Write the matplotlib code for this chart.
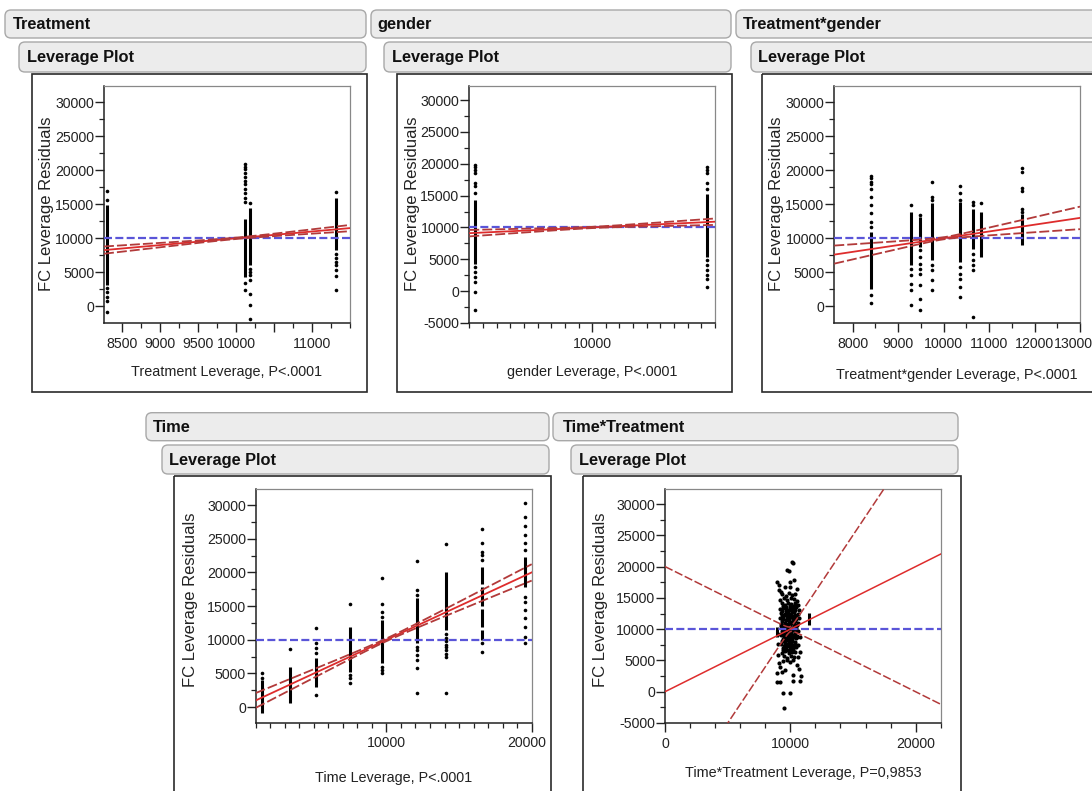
import numpy as np
import matplotlib
matplotlib.use("Agg")
import matplotlib.pyplot as plt
from matplotlib.patches import FancyBboxPatch, Rectangle
from matplotlib.ticker import FixedLocator, MultipleLocator
from matplotlib.transforms import ScaledTranslation

# ---------------- text ----------------
section_titles = ["Treatment", "gender", "Treatment*gender", "Time", "Time*Treatment"]
sub_title = "Leverage Plot"
y_title = "FC Leverage Residuals"
x_titles = ["Treatment Leverage, P<.0001", "gender Leverage, P<.0001",
            "Treatment*gender Leverage, P<.0001", "Time Leverage, P<.0001",
            "Time*Treatment Leverage, P=0,9853"]

# ---------------- fit / reference lines ----------------
mean_resid = 10000
fit_center = 10000
fit_slope = 1.0
ci_a = [100, 100, 150, 200, 400]
ci_b = [0.30, 0.55, 0.55, 0.12, 2.0]

# ---------------- Treatment ----------------
trt_x = [8300, 10123, 10189, 11321]
trt_dense = [[(3100, 14870)], [(4320, 12910)], [(6040, 14390)], [(8250, 15960)]]
trt_pts = [[16980, 15610, 2750, 2110, 1370, 780, -840],
           [20910, 20520, 20130, 19640, 19050, 18460, 17970, 17190, 16600, 15860, 15370, 3440, 2360],
           [15120, 5550, 5060, 4570, 3930, 1770, 150, -1810],
           [16840, 7760, 7170, 6530, 6040, 5300, 4420, 2360]]

# ---------------- gender ----------------
gen_x = [9145, 10845]
gen_dense = [[(4330, 14280)], [(5300, 15300)]]
gen_pts = [[19780, 19420, 19000, 18480, 16900, 16480, 15330, 3810, 3020, 2240, 1450, -120, -3000],
           [19520, 19000, 18470, 16900, 15960, 4850, 4070, 3390, 2500, 1970, 660]]

# ---------------- Treatment*gender ----------------
tg_x = [8404, 9290, 9473, 9745, 10367, 10646, 10822, 11723]
tg_dense = [[(2600, 10950)], [(6040, 13900)], [(8740, 13160)], [(6780, 15120)],
            [(6530, 15370)], [(8490, 14380)], [(7270, 13900)], [(9000, 13500)]]
tg_pts = [[19150, 18800, 18310, 17970, 17180, 16100, 14880, 13650, 12420, 11700, 1620, 490],
          [14875, 5550, 4570, 3340, 2360, 150],
          [13400, 8250, 7270, 6280, 5550, 4810, 3090, 1130, -590],
          [18310, 16100, 15610, 6040, 5300, 3830, 2360],
          [17670, 16590, 15610, 5790, 4810, 4080, 2850, 1380],
          [15370, 14880, 7760, 6780, 6040, 5300, -1570],
          [15120],
          [20270, 19780, 17330, 16980, 14300, 13900]]

# ---------------- Time ----------------
tm_x = [1450, 3380, 5170, 7470, 9700, 12070, 14070, 16600, 19540]
tm_dense = [[(-900, 4050)], [(590, 6030)], [(3060, 7260)], [(5290, 11960)], [(6520, 12950)],
            [(9500, 16160)], [(11500, 20110)],
            [(9980, 11500), (11900, 14600), (15000, 17800), (18300, 20850)],
            [(17890, 22340)]]
tm_pts = [[5140, 4300],
          [8700],
          [11810, 9490, 8750, 8000, 1830],
          [15270, 4790, 4300, 3560],
          [19120, 15270, 14180, 13440, 6030, 5530, 5040],
          [21740, 17400, 16650, 9000, 8500, 7760, 7020, 5780, 2070],
          [24210, 10800, 10300, 9800, 9300, 8900, 8500, 7860, 7510, 2070],
          [26390, 24410, 23080, 22580, 21840, 9490, 8150],
          [30240, 28170, 26880, 25550, 24310, 23320, 16410, 15660, 14430, 13190, 11960, 10480, 9490]]

# ---------------- Time*Treatment ----------------
tt_bars_x = [8950, 11500]
tt_bars = [(8800, 10400), (10700, 12600)]
tt_pts = [
    (9350, 15600), (9620, 15300), (9900, 15800), (10150, 15400), (10400, 15650),
    (9200, 14700), (9480, 14950), (9750, 14600), (10020, 14900), (10300, 14750), (10550, 14500),
    (9300, 14100), (9560, 13850), (9830, 14200), (10080, 13950), (10340, 14150), (10600, 13800),
    (9150, 13200), (9420, 13450), (9680, 13150), (9950, 13400), (10200, 13250), (10470, 13500), (10680, 13100),
    (9280, 12650), (9540, 12400), (9800, 12700), (10060, 12500), (10320, 12750), (10580, 12450),
    (9180, 11850), (9450, 12050), (9710, 11800), (9970, 12000), (10230, 11900), (10490, 12100), (10700, 11750),
    (9330, 11250), (9590, 11050), (9860, 11300), (10120, 11150), (10380, 11350), (10620, 11050),
    (9220, 10450), (9480, 10650), (9740, 10400), (10000, 10600), (10260, 10450), (10520, 10700),
    (9350, 9750), (9610, 9950), (9880, 9700), (10140, 9900), (10400, 9800), (10650, 9650),
    (9250, 9050), (9520, 9250), (9790, 9000), (10050, 9200), (10310, 9100), (10560, 8950),
    (9380, 8450), (9640, 8250), (9910, 8500), (10170, 8350), (10430, 8550),
    (9290, 7650), (9560, 7850), (9820, 7600), (10080, 7800), (10340, 7650), (10580, 7500),
    (9400, 7050), (9680, 6850), (9950, 7100), (10210, 6950), (10460, 7150),
    (9330, 6250), (9600, 6450), (9870, 6200), (10130, 6400), (10390, 6300),
    (9480, 5650), (9760, 5450), (10030, 5700), (10290, 5500),
    (9420, 4850), (9700, 5050), (9980, 4800), (10240, 5000),
    (9420, 13700), (9690, 13600), (9960, 13750), (10230, 13650), (10480, 13900),
    (9360, 12950), (9620, 12850), (9890, 13000), (10150, 12900), (10410, 13050),
    (9320, 12250), (9580, 12200), (9850, 12300), (10110, 12150), (10370, 12250),
    (9390, 11550), (9650, 11500), (9920, 11650), (10180, 11550), (10440, 11600),
    (9280, 10850), (9540, 10900), (9810, 10800), (10070, 10950), (10330, 10850),
    (9420, 10150), (9680, 10200), (9940, 10100), (10200, 10250), (10460, 10150),
    (9300, 9450), (9560, 9500), (9830, 9400), (10090, 9550), (10350, 9450),
    (9460, 8750), (9720, 8700), (9980, 8800), (10240, 8700), (10500, 8800),
    (9330, 8050), (9590, 8100), (9860, 7950), (10120, 8100), (10380, 8000),
    (9500, 7300), (9760, 7350), (10020, 7250), (10280, 7400),
    (9450, 6650), (9720, 6700), (9980, 6600), (10250, 6700),
    (10110, 20770), (10240, 20500), (9710, 19450), (9920, 19350), (9950, 17580),
    (8910, 17580), (9100, 16260), (9130, 17000), (10300, 17800), (10000, 16800),
    (9600, 16700), (10500, 16400), (9250, 15900),
    (9440, -215), (9976, -215), (9520, -2610), (8910, 1475), (9180, 1475),
    (10770, 1640), (10190, 1640), (8910, 2960), (9310, 3100), (10190, 2700),
    (10830, 2500), (9200, 3900), (9600, 3400), (10500, 4200), (10700, 3700),
    (9100, 4600), (10600, 5500), (9050, 5900), (10750, 6400), (9000, 7600),
    (10800, 8800), (9050, 9200),
]

# ---------------- ticks ----------------
p1_xticks = [8500, 9000, 9500, 10000, 10500, 11000]
p1_xlabels = ["8500", "9000", "9500", "10000", "", "11000"]
p2_xticks = [10000]
p2_xlabels = ["10000"]
p3_xticks = [8000, 9000, 10000, 11000, 12000, 13000]
p3_xlabels = ["8000", "9000", "10000", "11000", "12000", "13000"]
p4_xticks = [10000, 20000]
p4_xlabels = ["10000", "20000"]
p5_xticks = [0, 10000, 20000]
p5_xlabels = ["0", "10000", "20000"]
yticks_a = [0, 5000, 10000, 15000, 20000, 25000, 30000]
yticks_b = [-5000, 0, 5000, 10000, 15000, 20000, 25000, 30000]

# ---------------- figure ----------------
W, H = 1092, 791
FONT = ['Liberation Sans', 'DejaVu Sans']
plt.rcParams['font.family'] = FONT

fig = plt.figure(figsize=(W / 100, H / 100), dpi=100)
fig.patch.set_facecolor('white')
bg = fig.add_axes([0, 0, 1, 1], zorder=0)
bg.set_xlim(0, W)
bg.set_ylim(H, 0)
bg.axis('off')

RED = '#de2c2c'
DRED = '#b23a3a'
BLUE = '#5a55d8'


def header(x0, x1, y0, y1, text, tx):
    bg.add_patch(FancyBboxPatch((x0, y0), x1 - x0, y1 - y0,
                                boxstyle='round,pad=0,rounding_size=6',
                                fc='#ececec', ec='#a8a8a8', lw=1.0))
    bg.text(tx, (y0 + y1) / 2 + 0.5, text, fontweight='bold',
            fontsize=11.8, va='center', ha='left', color='#111')


def frame(x0, x1, y0, y1):
    bg.add_patch(Rectangle((x0, y0), x1 - x0, y1 - y0, fill=False, ec='#2a2a2a', lw=1.2))


def make_ax(l, t, r, b):
    ax = fig.add_axes([l / W, 1 - b / H, (r - l) / W, (b - t) / H], zorder=2)
    for s in ['left', 'bottom']:
        ax.spines[s].set_color('#222')
        ax.spines[s].set_linewidth(1.1)
    for s in ['top', 'right']:
        ax.spines[s].set_color('#888')
        ax.spines[s].set_linewidth(0.9)
    ax.tick_params(which='major', direction='out', length=6.3, width=1.0, labelsize=10.2,
                   colors='#222')
    ax.tick_params(which='minor', direction='out', length=3.5, width=0.9, colors='#222')
    ax.tick_params(axis='x', which='major', pad=3.5)
    ax.tick_params(axis='y', which='major', pad=0.8)
    return ax


def draw_columns(ax, xs, dense, pts):
    for x, segs, ys in zip(xs, dense, pts):
        for lo, hi in segs:
            ax.vlines(x, lo, hi, color='black', lw=2.2, zorder=2)
        ax.plot([x] * len(ys), ys, 'o', color='black', ms=2.6, mec='none', zorder=2)


def draw_fit(ax, xlim, a, b, lw=1.3):
    xx = np.linspace(xlim[0], xlim[1], 600)
    fit = mean_resid + fit_slope * (xx - fit_center)
    hw = np.sqrt(a ** 2 + (b * (xx - fit_center)) ** 2)
    ax.axhline(mean_resid, color=BLUE, lw=1.6, ls=(0, (3.6, 1.5)), zorder=3)
    ax.plot(xx, fit, color=RED, lw=lw, zorder=4)
    ax.plot(xx, fit + hw, color=DRED, lw=lw, ls=(0, (5.5, 1.7)), zorder=4)
    ax.plot(xx, fit - hw, color=DRED, lw=lw, ls=(0, (5.5, 1.7)), zorder=4)


def finish(ax, xlim, ylim, xt, xl, xminor, yt, x_title, ylab_x, ylab_y, xlab_y):
    ax.set_xlim(*xlim)
    ax.set_ylim(*ylim)
    ax.xaxis.set_major_locator(FixedLocator(xt))
    ax.set_xticklabels(xl)
    ax.xaxis.set_minor_locator(MultipleLocator(xminor))
    ax.yaxis.set_major_locator(FixedLocator(yt))
    ax.set_yticklabels([str(v) for v in yt])
    ax.yaxis.set_minor_locator(MultipleLocator(2500))
    bg.text(ylab_x, ylab_y, y_title, rotation=90, fontsize=12,
            ha='center', va='center', color='#222')
    pos = ax.get_position()
    cx = (pos.x0 + pos.x1) / 2 * W
    bg.text(cx, xlab_y, x_title, fontsize=10.4, ha='center',
            va='center', color='#222')


def shift_label(ax, idx, dx_px):
    lab = ax.get_xticklabels()[idx]
    lab.set_transform(lab.get_transform() + ScaledTranslation(dx_px / 100, 0, fig.dpi_scale_trans))


# ---- top row chrome ----
header(5, 366, 10, 38, section_titles[0], 12.7)
header(19, 366, 42, 72, sub_title, 26.7)
frame(32, 367, 74, 392)
header(371, 731, 10, 38, section_titles[1], 377)
header(384, 731, 42, 72, sub_title, 391.7)
frame(397, 732, 74, 392)
header(736, 1110, 10, 38, section_titles[2], 743)
header(751, 1110, 42, 72, sub_title, 758)
frame(762, 1110, 74, 392)
# ---- bottom row chrome ----
header(146, 549, 412.7, 440.7, section_titles[3], 152.7)
header(162, 549, 445, 474, sub_title, 169.3)
frame(174.3, 550.7, 476, 810)
header(553, 958, 412.7, 440.7, section_titles[4], 563.3)
header(571, 958, 445, 474, sub_title, 579.3)
frame(583.3, 960.7, 476, 810)

# ---- Panel 1: Treatment ----
ax1 = make_ax(104, 86, 350, 323)
xl1 = (8260, 11500)
draw_columns(ax1, trt_x, trt_dense, trt_pts)
draw_fit(ax1, xl1, ci_a[0], ci_b[0])
finish(ax1, xl1, (-2460, 32400), p1_xticks, p1_xlabels, 250, yticks_a, x_titles[0], 46.7, 204, 372)

# ---- Panel 2: gender ----
ax2 = make_ax(469.3, 86, 715, 323)
xl2 = (9100, 10900)
draw_columns(ax2, gen_x, gen_dense, gen_pts)
draw_fit(ax2, xl2, ci_a[1], ci_b[1])
finish(ax2, xl2, (-5000, 32200), p2_xticks, p2_xlabels, 100, yticks_b, x_titles[1], 412, 204, 372)

# ---- Panel 3: Treatment*gender ----
ax3 = make_ax(834.3, 86, 1080, 323)
xl3 = (7600, 13000)
draw_columns(ax3, tg_x, tg_dense, tg_pts)
draw_fit(ax3, xl3, ci_a[2], ci_b[2])
finish(ax3, xl3, (-2460, 32400), p3_xticks, p3_xlabels, 500, yticks_a, x_titles[2], 776.3, 204, 375)
shift_label(ax3, -1, -7)

# ---- Panel 4: Time ----
ax4 = make_ax(255.7, 489.3, 531.7, 722.7)
xl4 = (1000, 20000)
draw_columns(ax4, tm_x, tm_dense, tm_pts)
draw_fit(ax4, xl4, ci_a[3], ci_b[3])
finish(ax4, xl4, (-2300, 32330), p4_xticks, p4_xlabels, 1000, yticks_a, x_titles[3], 190.8, 600, 778)
shift_label(ax4, -1, -5)

# ---- Panel 5: Time*Treatment ----
ax5 = make_ax(665, 489, 940.7, 723)
xl5 = (0, 22000)
for x, (lo, hi) in zip(tt_bars_x, tt_bars):
    ax5.vlines(x, lo, hi, color='black', lw=2.2, zorder=2)
ax5.plot([p[0] for p in tt_pts], [p[1] for p in tt_pts], 'o', color='black', ms=3.0,
         mec='none', zorder=2)
draw_fit(ax5, xl5, ci_a[4], ci_b[4], lw=1.1)
finish(ax5, xl5, (-5000, 32400), p5_xticks, p5_xlabels, 2000, yticks_b, x_titles[4], 600.8, 600, 773.5)

fig.savefig('out.png', dpi=100, facecolor='white')
